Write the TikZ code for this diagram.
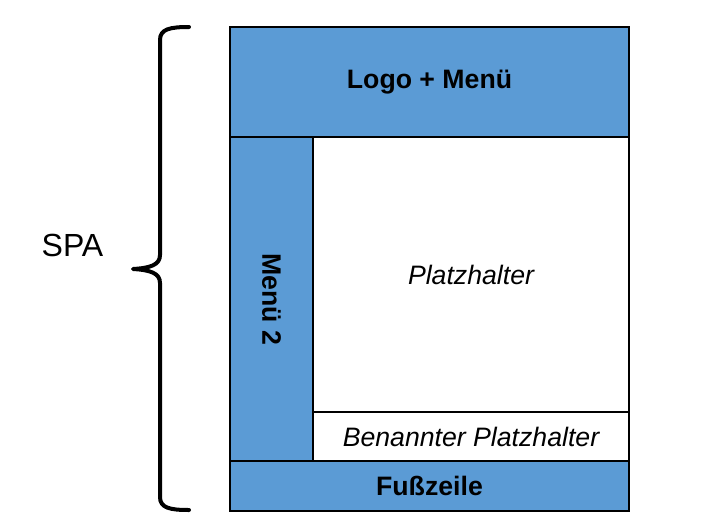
\documentclass[tikz,border=0pt]{standalone}
\usepackage{fontspec}
\setmainfont{Liberation Sans}
\definecolor{boxblue}{HTML}{5B9BD5}
\begin{document}
\begin{tikzpicture}[x=0.75pt,y=-0.75pt,
  region/.style n args={2}{draw=black,line width=1.0pt,inner sep=0pt,outer sep=0pt,
    minimum width=#1*0.75pt,minimum height=#2*0.75pt,anchor=center},
  bluebox/.style={fill=boxblue},
  whitebox/.style={fill=white},
  boldlbl/.style={font=\fontsize{20}{24}\selectfont\bfseries},
  itlbl/.style={font=\fontsize{20}{24}\selectfont\itshape},
  brace/.style={line width=3pt,line cap=round,line join=round}]
\useasboundingbox (0,0) rectangle (708,526);
\node[region={399}{110},bluebox,boldlbl] (head) at (429.5,82) {Logo + Menü};
\node[region={83}{324},bluebox] (menu2) at (271.5,299) {};
\node[boldlbl,rotate=-90] (menu2lbl) at (271.5,299) {Menü 2};
\node[region={316}{275},whitebox,itlbl] (place) at (471,274.5) {Platzhalter};
\node[region={316}{49},whitebox,itlbl] (named) at (471,436.5) {Benannter Platzhalter};
\node[region={399}{50},bluebox,boldlbl] (foot) at (429.5,486) {Fußzeile};
\draw[brace] (189,27) .. controls (170,27) and (160,29) .. (160,40) -- (160,255)
  .. controls (160,265) and (150,268) .. (133,269)
  .. controls (150,270) and (160,273) .. (160,283) -- (160,497)
  .. controls (160,508) and (170,510) .. (189,510);
\node[font=\fontsize{24}{28}\selectfont] (spa) at (72.5,245) {SPA};
\end{tikzpicture}
\end{document}
